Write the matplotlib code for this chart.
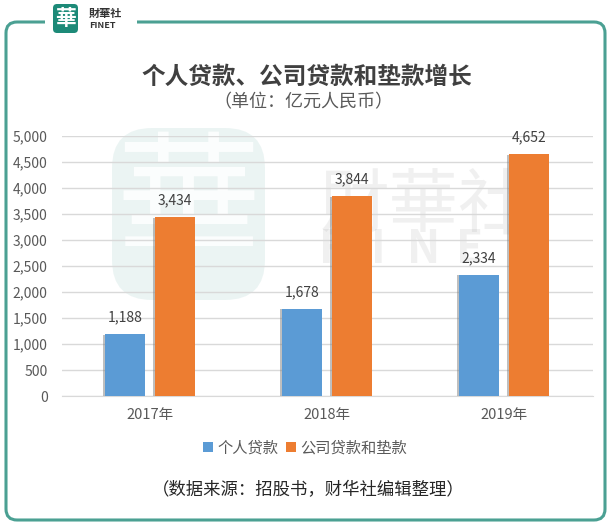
import numpy as np
import matplotlib
matplotlib.use("Agg")
import matplotlib.pyplot as plt
from matplotlib.path import Path
from matplotlib.patches import PathPatch, FancyBboxPatch, Patch
import matplotlib.patheffects as pe

plt.rcParams['font.family'] = ['Noto Sans CJK SC', 'DejaVu Sans']

# data
years = ['2017年', '2018年', '2019年']
personal = [1188, 1678, 2334]
corporate = [3434, 3844, 4652]
series_names = ['个人贷款', '公司贷款和垫款']
yticks = np.arange(0, 5001, 500)

W, H = 611, 523
BLUE = '#5b9bd5'
ORANGE = '#ed7d31'
TEAL = '#2b9080'


def pixel_axes(fig):
    a = fig.add_axes([0, 0, 1, 1])
    a.set_xlim(0, W)
    a.set_ylim(H, 0)
    a.axis('off')
    a.patch.set_visible(False)
    return a


def main():
    fig = plt.figure(figsize=(W / 100, H / 100), dpi=100)

    # watermark behind the chart
    bg = pixel_axes(fig)
    bg.add_patch(FancyBboxPatch((112, 128), 153, 172, boxstyle='round,pad=0,rounding_size=40',
                                facecolor='#2b9080', edgecolor='none', alpha=0.09))
    bg.text(188, 212, '華', ha='center', va='center', fontsize=105, color='white', alpha=0.85)
    bg.text(424, 206, '財華社', ha='center', va='center', fontsize=50, color='#9a9a9a', alpha=0.14)
    for i, ch in enumerate('FINET'):
        bg.text(332 + i * 46, 250, ch, ha='center', va='center', fontsize=32, color='#9a9a9a',
                alpha=0.14, fontweight='bold')

    ax = fig.add_axes([61.5 / W, 1 - 396 / H, 531 / W, 260 / H])
    ax.set_facecolor('none')

    x = np.arange(len(years))
    width = 0.226
    off = 0.141
    shadow = [pe.SimplePatchShadow(offset=(-1.5, -0.5), shadow_rgbFace='#808080', alpha=0.5), pe.Normal()]
    b1 = ax.bar(x - off, personal, width, color=BLUE, zorder=3, path_effects=shadow)
    b2 = ax.bar(x + off, corporate, width, color=ORANGE, zorder=3, path_effects=shadow)

    for bars, vals in ((b1, personal), (b2, corporate)):
        for rect, v in zip(bars, vals):
            ax.annotate('{:,}'.format(v), (rect.get_x() + rect.get_width() / 2, v),
                        xytext=(0, 12), textcoords='offset points', ha='center', va='center',
                        fontsize=10, color='#404040')

    ax.set_xlim(-0.5, len(years) - 0.5)
    ax.set_ylim(0, 5000)
    ax.set_yticks(yticks)
    ax.set_yticklabels(['{:,}'.format(v) for v in yticks], fontsize=10, color='#595959')
    ax.set_xticks(x)
    ax.set_xticklabels(years, fontsize=10.5, color='#595959')
    ax.tick_params(length=0)
    ax.tick_params(axis='x', pad=9)
    ax.tick_params(axis='y', pad=10)
    ax.grid(axis='y', color='#d9d9d9', linewidth=1, zorder=0)
    for s in ['top', 'right', 'left']:
        ax.spines[s].set_visible(False)
    ax.spines['bottom'].set_color('#d9d9d9')

    handles = [Patch(facecolor=BLUE, label=series_names[0]), Patch(facecolor=ORANGE, label=series_names[1])]
    fig.legend(handles=handles, loc='center', bbox_to_anchor=(305 / W, 1 - 448 / H), ncol=2,
               frameon=False, fontsize=11, handlelength=0.65, handleheight=0.65, handletextpad=0.3,
               columnspacing=0.5, labelcolor='#595959')

    fig.text(307 / W, 1 - 77 / H, '个人贷款、公司贷款和垫款增长', ha='center', va='center',
             fontsize=17, fontweight='bold', color='#404040')
    fig.text(303 / W, 1 - 102 / H, '（单位：亿元人民币）', ha='center', va='center',
             fontsize=13, color='#595959')
    fig.text(308 / W, 1 - 490 / H, '（数据来源：招股书，财华社编辑整理）', ha='center', va='center',
             fontsize=12.5, color='#262626')

    # frame and logo on top
    ov = pixel_axes(fig)
    r = 11
    L, T, R, B = 6, 22, 605, 520
    verts = [(45, T), (L + r, T), (L, T), (L, T + r), (L, B - r), (L, B), (L + r, B),
             (R - r, B), (R, B), (R, B - r), (R, T + r), (R, T), (R - r, T), (137, T)]
    codes = [Path.MOVETO, Path.LINETO, Path.CURVE3, Path.CURVE3, Path.LINETO, Path.CURVE3, Path.CURVE3,
             Path.LINETO, Path.CURVE3, Path.CURVE3, Path.LINETO, Path.CURVE3, Path.CURVE3, Path.LINETO]
    ov.add_patch(PathPatch(Path(verts, codes), fill=False, edgecolor=TEAL, linewidth=2.2, alpha=0.85))

    ov.add_patch(FancyBboxPatch((53, 4), 25, 29, boxstyle='round,pad=0,rounding_size=4',
                                facecolor='#1d8a78', edgecolor='none'))
    ov.text(65.5, 18.5, '華', ha='center', va='center', fontsize=15, color='white', fontweight='bold')
    ov.text(89, 13, '財華社', ha='left', va='center', fontsize=8, color='#333333', fontweight='bold')
    ov.text(89, 25, 'FINET', ha='left', va='center', fontsize=6.5, color='#333333', fontweight='bold')

    fig.savefig('out.png', dpi=100, facecolor='white')


if __name__ == '__main__':
    main()
